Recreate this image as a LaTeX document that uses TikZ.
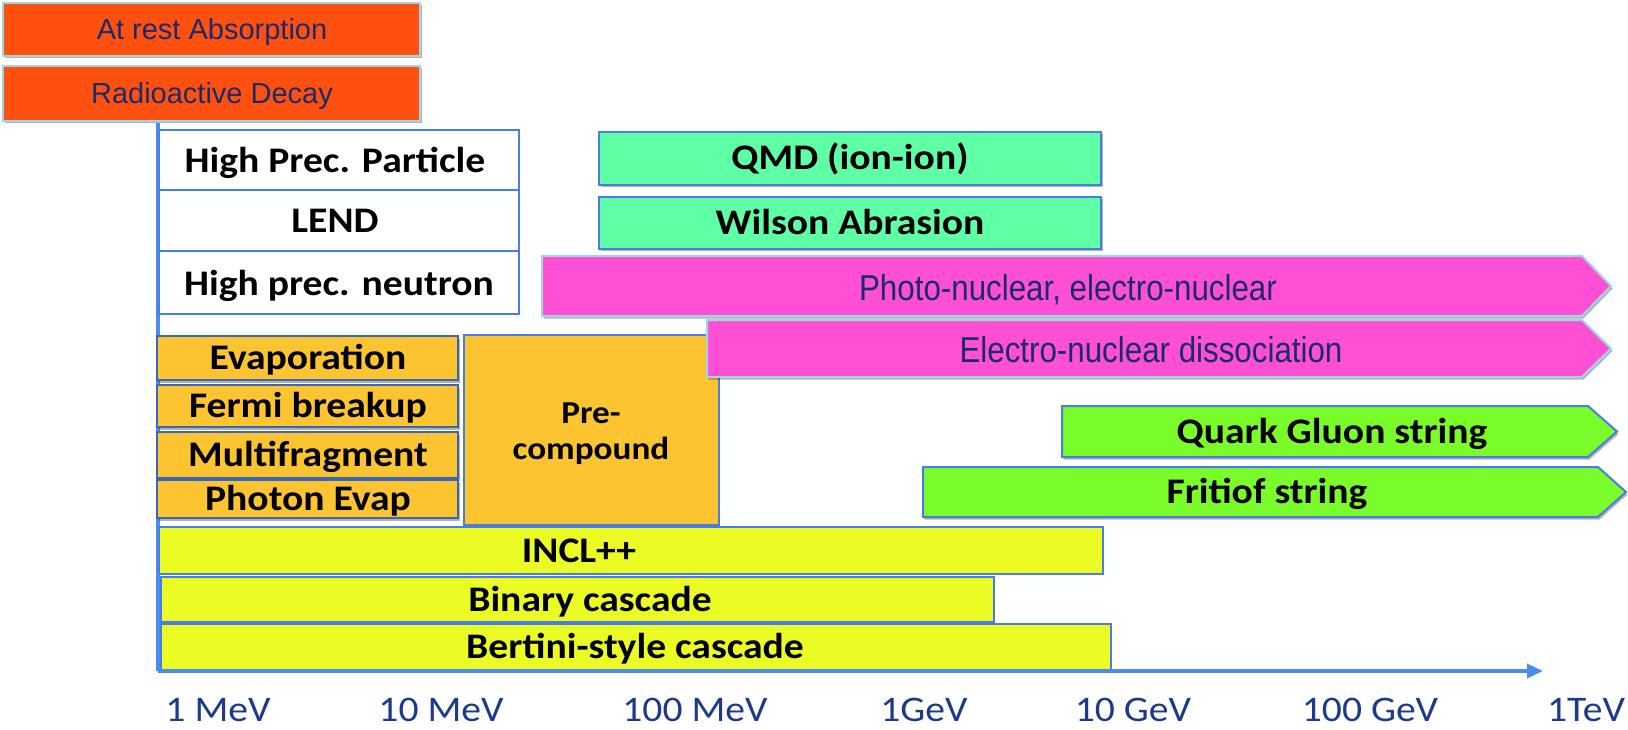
\documentclass[tikz,border=0pt]{standalone}
\usepackage{fontspec}
\usepackage{xcolor}
\usepackage{tikz}
\usetikzlibrary{arrows.meta,shadows}
\setmainfont{Carlito}[FakeStretch=1.1]
\newfontfamily\arialf{Liberation Sans}
\newfontfamily\arialn{Liberation Sans}[FakeStretch=0.87]
\definecolor{fireorange}{HTML}{FF500F}
\definecolor{navytext}{HTML}{1B2A6B}
\definecolor{paleblue}{HTML}{9FD6E6}
\definecolor{barline}{HTML}{4A7CE8}
\definecolor{darkline}{HTML}{3A66B8}
\definecolor{mint}{HTML}{5FFFA6}
\definecolor{hotpink}{HTML}{FF4FD5}
\definecolor{amber}{HTML}{FCC430}
\definecolor{lemon}{HTML}{EBFC24}
\definecolor{lime}{HTML}{7AFC2A}
\definecolor{axisblue}{HTML}{4A8CF0}
\definecolor{tickblue}{HTML}{1C3A8A}

\begin{document}
\begin{tikzpicture}[x=1pt,y=-1pt,
  lbl/.style={font=\fontsize{36}{40}\selectfont\bfseries,text height=23pt,text depth=0pt,inner sep=0pt},
  olbl/.style={font=\arialf\fontsize{29}{34}\selectfont,text=navytext,text height=21pt,text depth=0pt,inner sep=0pt},
  plbl/.style={font=\arialn\fontsize{36}{40}\selectfont,text=navytext,text height=26pt,text depth=0pt,inner sep=0pt},
  ticklbl/.style={font=\fontsize{36}{40}\selectfont,text=tickblue,anchor=base,text depth=0pt,inner sep=0pt},
  bar/.style={draw=barline,line width=2pt},
  dshadow/.style={drop shadow={shadow xshift=1.5pt,shadow yshift=-2.5pt,opacity=.3,fill=black}}]
\useasboundingbox (0,0) rectangle (1628,730);
% axes
\coordinate (axistop) at (158,123);
\coordinate (origin) at (158,671);
\coordinate (axisend) at (1543,671);
\draw[axisblue,line width=3.5pt] (axistop) -- (origin);
% at rest, decay
\draw[fill=fireorange,draw=paleblue,line width=2pt,dshadow] (3,3) rectangle (420,56);
\node[olbl] (atrest) at (212,29.5) {At rest Absorption};
\draw[fill=fireorange,draw=paleblue,line width=2pt,dshadow] (3,66) rectangle (420,121);
\node[olbl] (decay) at (212,93.5) {Radioactive Decay};
% high precision table
\draw[bar,fill=white] (159,130) rectangle (519,190);
\draw[bar,fill=white] (159,190) rectangle (519,251);
\draw[bar,fill=white] (159,251) rectangle (519,314);
\node[lbl] (hpp) at (335,161) {High Prec. Particle};
\node[lbl] (lend) at (335,221.5) {LEND};
\node[lbl] (hpn) at (339,283.5) {High prec. neutron};
% ion-ion
\draw[bar,fill=mint,dshadow] (599,132) rectangle (1101,185);
\node[lbl] (qmd) at (850,158.5) {QMD (ion-ion)};
\draw[bar,fill=mint,dshadow] (599,197) rectangle (1101,249);
\node[lbl] (wilson) at (850,223) {Wilson Abrasion};
% de-excitation
\draw[draw=darkline,line width=2.5pt,fill=amber,dshadow] (157,336) rectangle (458,380);
\node[lbl] (evap) at (308,358) {Evaporation};
\draw[draw=darkline,line width=2.5pt,fill=amber,dshadow] (157,385) rectangle (458,427);
\node[lbl] (fermi) at (308,406) {Fermi breakup};
\draw[draw=darkline,line width=2.5pt,fill=amber,dshadow] (157,432) rectangle (458,478);
\node[lbl] (multi) at (308,455) {Multifragment};
\draw[draw=darkline,line width=2.5pt,fill=amber,dshadow] (157,480) rectangle (458,518);
\node[lbl] (phevap) at (308,499) {Photon Evap};
\draw[bar,fill=amber] (464,335) rectangle (719,525);
\node[font=\fontsize{32}{36}\selectfont\bfseries,align=center,inner sep=0pt] (precomp) at (591,434) {Pre-\\compound};
% photo/electro-nuclear
\draw[fill=hotpink,draw=paleblue,line width=2pt,dshadow] (542,256) -- (1582,256) -- (1611,286) -- (1582,316) -- (542,316) -- cycle;
\node[plbl] (photo) at (1068,287) {Photo-nuclear, electro-nuclear};
\draw[fill=hotpink,draw=paleblue,line width=2pt,dshadow] (707,320) -- (1582,320) -- (1611,348.5) -- (1582,377) -- (707,377) -- cycle;
\node[plbl] (edis) at (1151,349.5) {Electro-nuclear dissociation};
% strings
\draw[bar,fill=lime,dshadow] (1062,406) -- (1588,406) -- (1617,431.5) -- (1588,457) -- (1062,457) -- cycle;
\node[lbl] (qgs) at (1332,431.5) {Quark Gluon string};
\draw[bar,fill=lime,dshadow] (923,467) -- (1598,467) -- (1626,492) -- (1598,517) -- (923,517) -- cycle;
\node[lbl] (fritiof) at (1267,492) {Fritiof string};
% cascades
\draw[bar,fill=lemon] (159,527) rectangle (1103,574);
\node[lbl] (incl) at (579,550.5) {INCL++};
\draw[bar,fill=lemon] (161,577) rectangle (994,622);
\node[lbl] (binary) at (590,599.5) {Binary cascade};
\draw[bar,fill=lemon] (161,624) rectangle (1111,670);
\node[lbl] (bertini) at (635,647) {Bertini-style cascade};
\draw[axisblue,line width=3.5pt,-{Triangle[length=16pt,width=14pt]}] (origin) -- (axisend);
% energy labels
\node[ticklbl] (e1) at (218,721) {1 MeV};
\node[ticklbl] (e2) at (441,721) {10 MeV};
\node[ticklbl] (e3) at (695,721) {100 MeV};
\node[ticklbl] (e4) at (924,721) {1GeV};
\node[ticklbl] (e5) at (1133,721) {10 GeV};
\node[ticklbl] (e6) at (1370,721) {100 GeV};
\node[ticklbl] (e7) at (1586,721) {1TeV};
\end{tikzpicture}
\end{document}
